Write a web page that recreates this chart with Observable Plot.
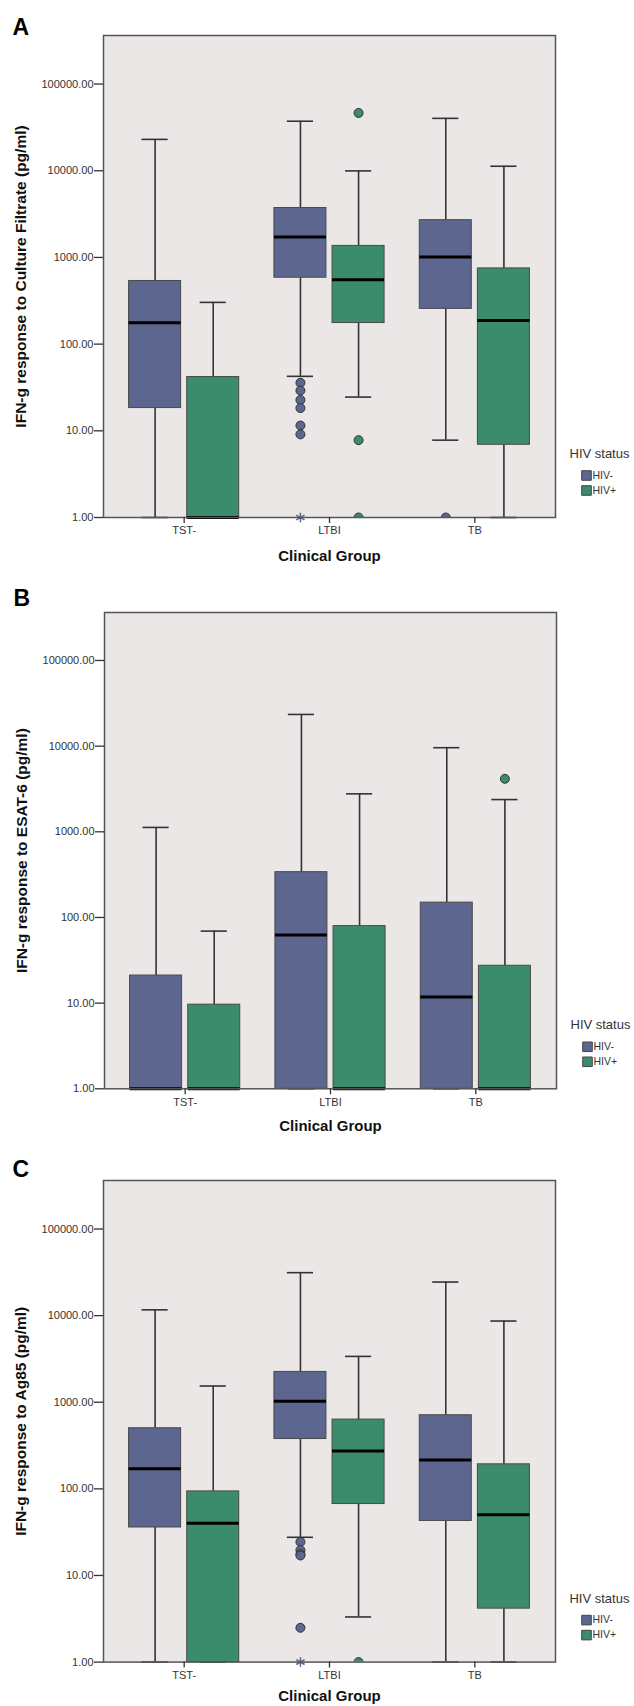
<!DOCTYPE html>
<html><head><meta charset="utf-8">
<script src="https://cdn.jsdelivr.net/npm/d3@7"></script>
<script src="https://cdn.jsdelivr.net/npm/@observablehq/plot@0.6"></script>
<style>
body{margin:0;background:#fff;}
#wrap{position:relative;width:634px;height:1706px;overflow:hidden;background:#fff;}
#wrap svg{position:absolute;left:0;overflow:hidden;}
</style></head><body><div id="wrap"></div>
<script>
// ---- categories / labels ----
const groups = ["TST-", "LTBI", "TB"];
const hivStatus = ["HIV-", "HIV+"];
const hivColors = ["#5C668E", "#3A8C6D"];
const yTicks = [1, 10, 100, 1000, 10000, 100000];
const panelLetters = ["A", "B", "C"];
const yTitles = [
  "IFN-g response to Culture Filtrate (pg/ml)",
  "IFN-g response to ESAT-6 (pg/ml)",
  "IFN-g response to Ag85 (pg/ml)"
];
const xTitle = "Clinical Group";
const legendTitle = "HIV status";

// ---- box statistics: [lower whisker, Q1, median, Q3, upper whisker] per clinical group ----
// Panel A: Culture Filtrate
const cfNeg = [[1, 18.3, 176, 535, 23000], [42.5, 583, 1720, 3715, 37250], [7.8, 255, 1010, 2690, 40200]];
const cfPos = [[1, 1, 1, 41.7, 303], [24.5, 175, 551, 1358, 9960], [1, 6.9, 187, 747, 11270]];
const cfOutNeg = [[], [35.8, 29.1, 22.7, 18.3, 11.5, 9.1], [1]];
const cfOutPos = [[], [46400, 7.8, 1], []];
const cfExtNeg = [[], [1], []];
const cfExtPos = [[], [], []];
// Panel B: ESAT-6
const esNeg = [[1, 1, 1, 21.0, 1125], [1, 1, 62.3, 338, 23440], [1, 1, 11.8, 149, 9590]];
const esPos = [[1, 1, 1, 9.6, 69.3], [1, 1, 1, 79.3, 2775], [1, 1, 1, 27.3, 2378]];
const esOutNeg = [[], [], []];
const esOutPos = [[], [], [4155]];
const esExtNeg = [[], [], []];
const esExtPos = [[], [], []];
// Panel C: Ag85
const agNeg = [[1, 35.8, 171, 501, 11660], [27.6, 376, 1029, 2239, 31330], [1, 42.6, 215, 708, 24420]];
const agPos = [[1, 1, 40.2, 93.5, 1540], [3.32, 66.8, 274, 631, 3382], [1, 4.14, 50.1, 192, 8660]];
const agOutNeg = [[], [24.4, 19.6, 17.6, 17.0, 2.49], []];
const agOutPos = [[], [1], []];
const agExtNeg = [[], [1], []];
const agExtPos = [[], [], []];

// ---- layout (page px) ----
const layouts = [
  {frameTop: 35, frameBottom: 517, left: 103, right: 79, letterDy: -7.5, xTitleDy: 38.5},
  {frameTop: 611.7, frameBottom: 1088, left: 104, right: 78, letterDy: -13.5, xTitleDy: 37},
  {frameTop: 1179.7, frameBottom: 1661.3, left: 103, right: 79, letterDy: -10.5, xTitleDy: 34.5}
];
const sources = [
  [cfNeg, cfPos, cfOutNeg, cfOutPos, cfExtNeg, cfExtPos],
  [esNeg, esPos, esOutNeg, esOutPos, esExtNeg, esExtPos],
  [agNeg, agPos, agOutNeg, agOutPos, agExtNeg, agExtPos]
];

const off = 0.2, half = 0.179, cap = 0.09;
const xpos = d => groups.indexOf(d.group) + (d.hiv === "HIV-" ? -off : off);
const font = "'Liberation Sans', Arial, Helvetica, sans-serif";
const wrap = document.getElementById("wrap");

sources.forEach(([neg, pos, oNeg, oPos, eNeg, ePos], p) => {
  const L = layouts[p];
  const boxes = [];
  const outs = [];
  const exts = [];
  groups.forEach((g, i) => {
    [[neg, oNeg, eNeg, "HIV-"], [pos, oPos, ePos, "HIV+"]].forEach(([st, o, e, h]) => {
      const [lo, q1, med, q3, hi] = st[i];
      boxes.push({group: g, hiv: h, lo, q1, med, q3, hi});
      o[i].forEach(v => outs.push({group: g, hiv: h, v}));
      e[i].forEach(v => exts.push({group: g, hiv: h, v}));
    });
  });

  const mt = 35, mb = 52;
  const height = (L.frameBottom - L.frameTop) + mt + mb;
  const chart = Plot.plot({
    width: 634,
    height,
    marginTop: mt,
    marginBottom: mb,
    marginLeft: L.left,
    marginRight: L.right,
    style: {fontFamily: font, fontSize: "11px", color: "#333", background: "transparent", overflow: "hidden"},
    x: {domain: [-0.555, 2.555]},
    y: {type: "log", domain: [1, Math.pow(10, 5.56)]},
    color: {domain: hivStatus, range: hivColors},
    marks: [
      Plot.frame({fill: "#EBE7E7", stroke: null}),
      Plot.ruleX(boxes, {x: xpos, y1: "lo", y2: "q1", stroke: "#333", strokeWidth: 1.6}),
      Plot.ruleX(boxes, {x: xpos, y1: "q3", y2: "hi", stroke: "#333", strokeWidth: 1.6}),
      Plot.ruleY(boxes, {y: "hi", x1: d => xpos(d) - cap, x2: d => xpos(d) + cap, stroke: "#333", strokeWidth: 1.6}),
      Plot.ruleY(boxes, {y: "lo", x1: d => xpos(d) - cap, x2: d => xpos(d) + cap, stroke: "#333", strokeWidth: 1.6}),
      Plot.rect(boxes, {x1: d => xpos(d) - half, x2: d => xpos(d) + half, y1: "q1", y2: "q3", fill: "hiv", stroke: "#4a4a4a", strokeWidth: 1}),
      Plot.ruleY(boxes, {y: "med", x1: d => xpos(d) - half, x2: d => xpos(d) + half, stroke: "#000", strokeWidth: 3}),
      Plot.dot(outs, {x: xpos, y: "v", fill: "hiv", stroke: "#333", strokeWidth: 1, r: 4.5, clip: true}),
      Plot.dot(exts, {x: xpos, y: "v", symbol: "asterisk", stroke: hivColors[0], strokeWidth: 1.5, r: 4.5}),
      Plot.frame({stroke: "#555", strokeWidth: 1.5}),
      Plot.axisY({ticks: yTicks, tickFormat: d => d.toFixed(2), tickSize: 9, tickPadding: 1, fontSize: 11, label: null, strokeWidth: 1.3}),
      Plot.axisX({ticks: [0, 1, 2], tickFormat: i => groups[i], tickSize: 6, tickPadding: 3, fontSize: 11, label: null, strokeWidth: 1.3}),
      Plot.text([yTitles[p]], {frameAnchor: "left", dx: -82.5, rotate: -90, textAnchor: "middle", lineAnchor: "middle", fontSize: 15.5, fontWeight: "bold", fill: "#111"}),
      Plot.text([xTitle], {frameAnchor: "bottom", dy: L.xTitleDy, textAnchor: "middle", lineAnchor: "middle", fontSize: 15, fontWeight: "bold", fill: "#111"}),
      Plot.text([panelLetters[p]], {frameAnchor: "top-left", dx: -91, dy: L.letterDy, textAnchor: "start", lineAnchor: "middle", fontSize: 23, fontWeight: "bold", fill: "#000"}),
      Plot.text([legendTitle], {frameAnchor: "bottom-right", dx: 14, dy: -63.5, textAnchor: "start", lineAnchor: "middle", fontSize: 13, fill: "#333"}),
      ...hivStatus.map((h, i) => Plot.dot([h], {frameAnchor: "bottom-right", fill: d => d, symbol: "square", r: 5.4, dx: 31, dy: -42 + 15 * i, stroke: "#444", strokeWidth: 1})),
      ...hivStatus.map((h, i) => Plot.text([h], {frameAnchor: "bottom-right", dx: 37, dy: -42 + 15 * i, textAnchor: "start", lineAnchor: "middle", fontSize: 10.5, fill: "#333"}))
    ]
  });
  chart.style.top = (L.frameTop - mt) + "px";
  wrap.appendChild(chart);
});
</script>
</body></html>
